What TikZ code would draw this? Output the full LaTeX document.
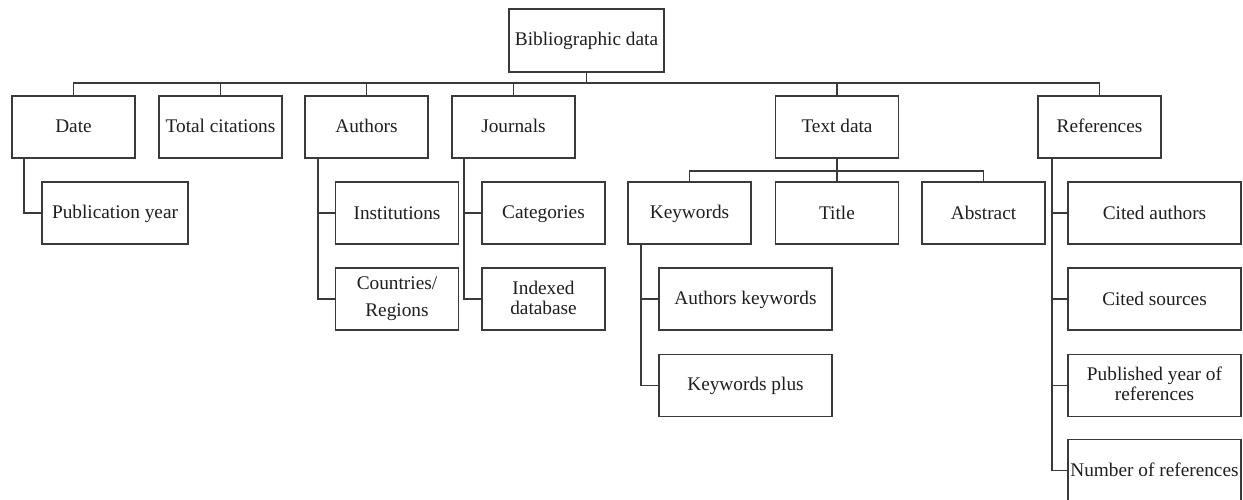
\documentclass[tikz,border=0pt]{standalone}
\usepackage{fontspec}
\setmainfont{Liberation Serif}
\definecolor{ln}{HTML}{3A3A3A}
\definecolor{tx}{HTML}{1E1E1E}
\newcommand\bxstrut{\rule[-3pt]{0pt}{18pt}}
\begin{document}
\begin{tikzpicture}[x=1pt,y=-1pt,
  box/.style={draw=ln,line width=1.5pt,rectangle,inner sep=1pt,outer sep=0pt,
    minimum width=123pt,minimum height=62pt,align=center,text=tx,
    font=\fontsize{19.3}{20}\selectfont,execute at begin node=\bxstrut},
  wbox/.style={box,minimum width=146pt},
  xbox/.style={box,minimum width=173pt},
  conn/.style={draw=ln,line width=1.5pt}]
\useasboundingbox (0,0) rectangle (1243,500);
\node[box,minimum width=155pt,minimum height=63pt] (bib) at (586.5,40.5) {Bibliographic data};
\node[box] (date) at (73.5,127) {Date};
\node[box] (tot) at (220.5,127) {Total citations};
\node[box] (auth) at (366.5,127) {Authors};
\node[box] (jour) at (513.5,127) {Journals};
\node[box] (text) at (837,127) {Text data};
\node[box] (refs) at (1099.5,127) {References};
\node[wbox] (pub) at (115,213) {Publication year};
\node[box] (inst) at (397,213) {Institutions};
\node[box,font=\fontsize{19.3}{27}\selectfont] (ctry) at (397,299) {Countries/\\Regions\bxstrut};
\node[box] (cat) at (543.5,213) {Categories};
\node[box] (idx) at (543.5,299) {Indexed\\database\bxstrut};
\node[box] (kw) at (689.5,213) {Keywords};
\node[box] (title) at (837,213) {Title};
\node[box] (abs) at (983.5,213) {Abstract};
\node[xbox] (akw) at (745.5,299) {Authors keywords};
\node[xbox] (kwp) at (745.5,385.5) {Keywords plus};
\node[xbox] (cau) at (1154.5,213) {Cited authors};
\node[xbox] (cso) at (1154.5,299) {Cited sources};
\node[xbox] (pyr) at (1154.5,385.5) {Published year of\\references\bxstrut};
\node[xbox] (nor) at (1154.5,470.5) {Number of references};
\coordinate (bus) at (0,83);
\coordinate (tbus) at (0,171);
% top level bus
\draw[conn] (date.north) -- (date.north|-bus) -- (refs.north|-bus) -- (refs.north);
\draw[conn] (bib.south) -- (bib.south|-bus);
\foreach \n in {tot,auth,jour,text} \draw[conn] (\n.north) -- (\n.north|-bus);
% text data bus
\draw[conn] (text.south) -- (title.north);
\draw[conn] (kw.north) -- (kw.north|-tbus) -- (abs.north|-tbus) -- (abs.north);
% side branches
\draw[conn] ([xshift=12pt]date.south west) |- (pub.west);
\draw[conn] ([xshift=13pt]auth.south west) |- (ctry.west);
\draw[conn] ([xshift=13pt]auth.south west) |- (inst.west);
\draw[conn] ([xshift=12pt]jour.south west) |- (idx.west);
\draw[conn] ([xshift=12pt]jour.south west) |- (cat.west);
\draw[conn] ([xshift=13pt]kw.south west) |- (kwp.west);
\draw[conn] ([xshift=13pt]kw.south west) |- (akw.west);
\draw[conn] ([xshift=14pt]refs.south west) |- (nor.west);
\draw[conn] ([xshift=14pt]refs.south west) |- (pyr.west);
\draw[conn] ([xshift=14pt]refs.south west) |- (cso.west);
\draw[conn] ([xshift=14pt]refs.south west) |- (cau.west);
\end{tikzpicture}
\end{document}
